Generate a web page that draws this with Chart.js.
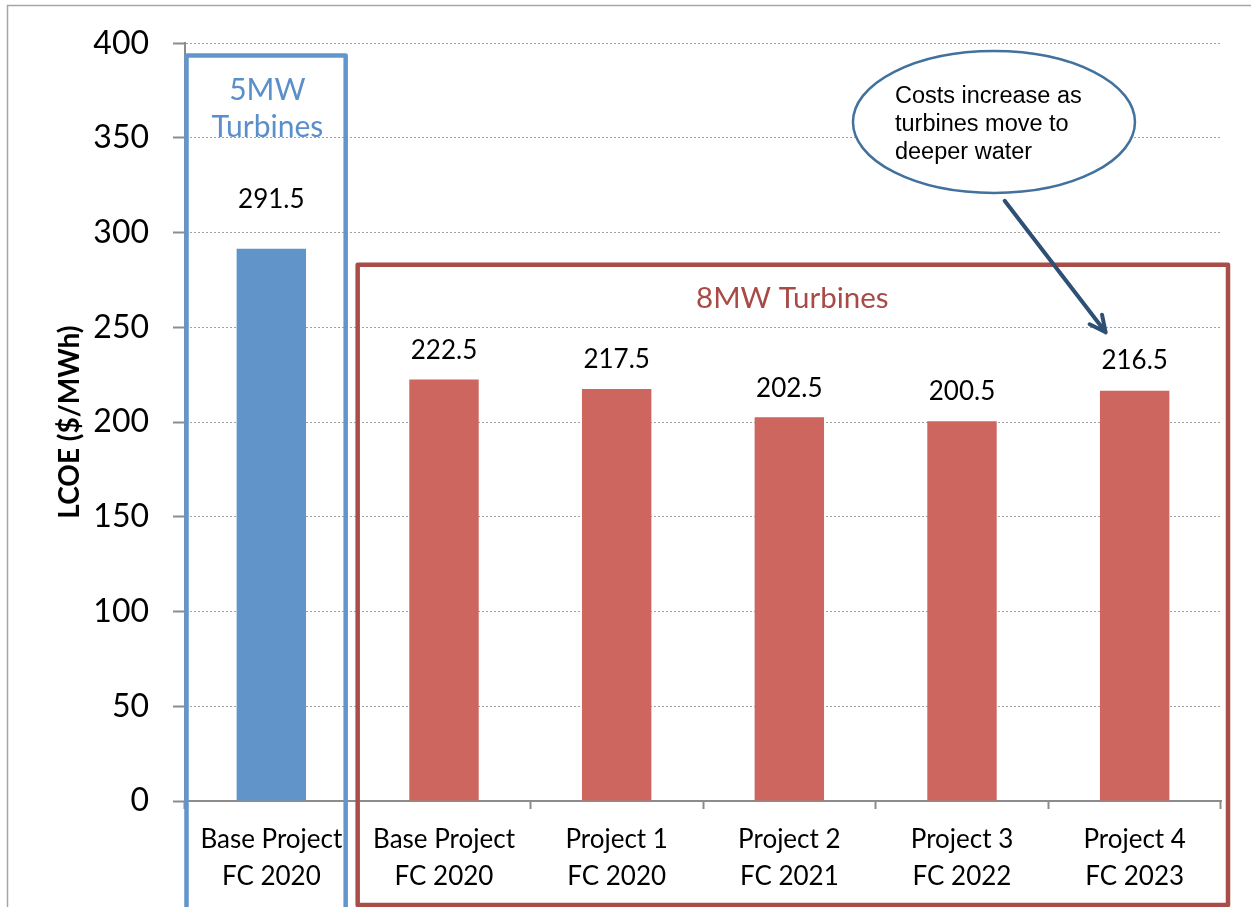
<!DOCTYPE html>
<html>
<head>
<meta charset="utf-8">
<script src="https://cdn.jsdelivr.net/npm/chart.js@4"></script>
<style>
  html, body { margin: 0; padding: 0; background: #fff; }
  #wrap { width: 1251px; height: 907px; position: relative; }
</style>
</head>
<body>
<div id="wrap"><canvas id="lcoeChart"></canvas></div>
<script>
// dados do gráfico
const categories = [
    ['Base Project', 'FC 2020'],
    ['Base Project', 'FC 2020'],
    ['Project 1', 'FC 2020'],
    ['Project 2', 'FC 2021'],
    ['Project 3', 'FC 2022'],
    ['Project 4', 'FC 2023']
];
const lcoeValues = [291.5, 222.5, 217.5, 202.5, 200.5, 216.5];
const barColors = ['#6195c9', '#cd665e', '#cd665e', '#cd665e', '#cd665e', '#cd665e'];
const yTicks = { min: 0, max: 400, step: 50 };
const axisTitle = 'LCOE ($/MWh)';
const groupLabels = { small: ['5MW', 'Turbines'], large: '8MW Turbines' };
const calloutLines = ['Costs increase as', 'turbines move to', 'deeper water'];

const FONT = 'Lato, Carlito, Calibri, sans-serif';

// rótulos de valor acima das barras
const valueLabels = {
    id: 'valueLabels',
    afterDatasetsDraw(chart, args, opts) {
        const ctx = chart.ctx;
        const meta = chart.getDatasetMeta(0);
        ctx.save();
        ctx.font = '26px ' + FONT;
        ctx.fillStyle = '#000';
        ctx.textAlign = 'center';
        ctx.textBaseline = 'middle';
        meta.data.forEach((bar, i) => {
            const lift = opts.lift[i] ?? 29;
            ctx.fillText(lcoeValues[i].toFixed(1), bar.x, bar.y - lift);
        });
        ctx.restore();
    }
};

// caixas, textos, balão e seta
const annotations = {
    id: 'annotations',
    afterDraw(chart) {
        const ctx = chart.ctx;
        const x = chart.scales.x, y = chart.scales.y;
        const step = x.getPixelForValue(1) - x.getPixelForValue(0);
        ctx.save();

        // moldura externa
        ctx.strokeStyle = '#a6a6a6';
        ctx.lineWidth = 1.5;
        ctx.strokeRect(7.5, 5.5, 1400, 1000);

        // caixa 5MW
        ctx.strokeStyle = '#6196cc';
        ctx.lineWidth = 4.5;
        ctx.lineJoin = 'round';
        const bl = x.getPixelForValue(0) - step / 2 + 1.5;
        const br = x.getPixelForValue(0) + step / 2 - 12;
        const bt = y.getPixelForValue(393.5);
        ctx.strokeRect(bl, bt, br - bl, chart.height + 20);

        // caixa 8MW
        ctx.strokeStyle = '#a84d48';
        const rl = x.getPixelForValue(1) - step / 2;
        const rr = x.getPixelForValue(5) + step / 2 + 7;
        const rt = y.getPixelForValue(283);
        ctx.strokeRect(rl, rt, rr - rl, chart.height - 2 - rt);

        ctx.textAlign = 'center';
        ctx.textBaseline = 'middle';
        ctx.fillStyle = '#5b8fc9';
        ctx.font = '30px ' + FONT;
        const cx0 = x.getPixelForValue(0) - 4;
        ctx.fillText(groupLabels.small[0], cx0, y.getPixelForValue(375.3));
        ctx.fillText(groupLabels.small[1], cx0, y.getPixelForValue(355.8));

        ctx.fillStyle = '#a84a46';
        ctx.font = '29.5px ' + FONT;
        ctx.fillText(groupLabels.large, x.getPixelForValue(3) + 3, y.getPixelForValue(265.3));

        // balão
        const ex = x.getPixelForValue(5) - 140.7, ey = y.getPixelForValue(358.4);
        ctx.beginPath();
        ctx.ellipse(ex, ey, 141, 71, 0, 0, Math.PI * 2);
        ctx.fillStyle = '#fff';
        ctx.fill();
        ctx.strokeStyle = '#41719c';
        ctx.lineWidth = 2.5;
        ctx.stroke();

        ctx.fillStyle = '#000';
        ctx.textAlign = 'left';
        ctx.font = '23.5px "Liberation Sans", Arial, sans-serif';
        calloutLines.forEach((line, i) => {
            ctx.fillText(line, ex - 99, ey - 25 + i * 28);
        });

        // seta
        const sx = x.getPixelForValue(5) - 130, sy = y.getPixelForValue(316.8);
        const tx = x.getPixelForValue(5) - 29, ty = y.getPixelForValue(247.4);
        ctx.strokeStyle = '#2e5074';
        ctx.lineWidth = 4;
        ctx.lineCap = 'round';
        ctx.beginPath();
        ctx.moveTo(sx, sy);
        ctx.lineTo(tx, ty);
        const ang = Math.atan2(ty - sy, tx - sx);
        const head = 18;
        ctx.moveTo(tx - head * Math.cos(ang - 0.45), ty - head * Math.sin(ang - 0.45));
        ctx.lineTo(tx, ty);
        ctx.lineTo(tx - head * Math.cos(ang + 0.45), ty - head * Math.sin(ang + 0.45));
        ctx.stroke();

        ctx.restore();
    }
};

const ctx = document.getElementById('lcoeChart').getContext('2d');
new Chart(ctx, {
    type: 'bar',
    data: {
        labels: categories,
        datasets: [{
            data: lcoeValues,
            backgroundColor: barColors,
            borderWidth: 0,
            barPercentage: 0.402,
            categoryPercentage: 1
        }]
    },
    options: {
        responsive: true,
        maintainAspectRatio: false,
        devicePixelRatio: 1,
        animation: false,
        layout: { padding: { top: 41, right: 30, bottom: 0, left: 0 } },
        plugins: {
            legend: { display: false },
            tooltip: { enabled: false },
            valueLabels: { lift: [49, 29, 29, 29, 30, 30] }
        },
        scales: {
            x: {
                afterFit: (scale) => { scale.height = 106; },
                grid: {
                    drawOnChartArea: false,
                    drawTicks: true,
                    tickLength: 8,
                    tickColor: '#8c8c8c',
                    tickWidth: 2,
                    tickBorderDash: []
                },
                border: { color: '#8c8c8c', width: 2, dash: [] },
                ticks: {
                    color: '#000',
                    font: { family: FONT, size: 26, lineHeight: 1.42 },
                    padding: 12,
                    maxRotation: 0,
                    autoSkip: false
                }
            },
            y: {
                min: yTicks.min,
                max: yTicks.max,
                afterFit: (scale) => { scale.width = 185; },
                grid: {
                    color: '#a0a0a0',
                    lineWidth: 1,
                    tickLength: 12,
                    tickColor: '#8c8c8c',
                    tickWidth: 2,
                    tickBorderDash: []
                },
                border: { color: '#8c8c8c', width: 2, dash: [2, 2] },
                ticks: {
                    stepSize: yTicks.step,
                    color: '#000',
                    font: { family: FONT, size: 32 },
                    padding: 24
                },
                title: {
                    display: true,
                    text: axisTitle,
                    color: '#000',
                    font: { family: FONT, size: 28, weight: 'bold' },
                    padding: { top: 53, bottom: 0 }
                }
            }
        }
    },
    plugins: [valueLabels, annotations]
});
</script>
</body>
</html>
